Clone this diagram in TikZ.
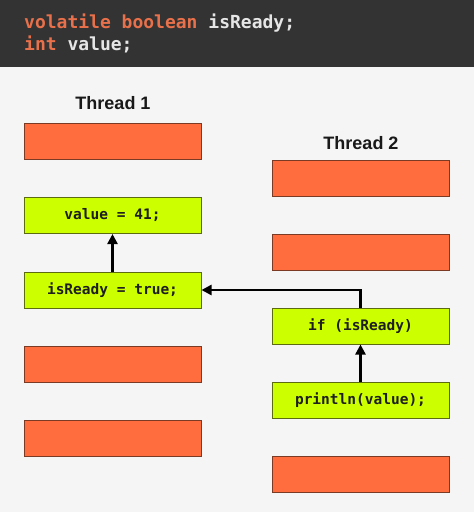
\documentclass[tikz,border=0pt]{standalone}
\usepackage{fontspec}
\setmainfont{Liberation Sans}
\newfontfamily\codefont{DejaVu Sans Mono}
\usetikzlibrary{arrows.meta}
\definecolor{hdr}{HTML}{333333}
\definecolor{bg}{HTML}{F5F5F5}
\definecolor{kw}{HTML}{E8704A}
\definecolor{codetxt}{HTML}{E6E6E6}
\definecolor{orfill}{HTML}{FF6D3F}
\definecolor{ordraw}{HTML}{7A3A24}
\definecolor{grfill}{HTML}{CCFF00}
\definecolor{grdraw}{HTML}{5C6B10}
\definecolor{boxtxt}{HTML}{1E1E1E}
\tikzset{
  cell/.style={minimum width=177pt, minimum height=36pt, inner sep=0pt, line width=1pt},
  obox/.style={cell, fill=orfill, draw=ordraw},
  gbox/.style={cell, fill=grfill, draw=grdraw, font=\codefont\bfseries\fontsize{14.5}{16}\selectfont, text=boxtxt},
  title/.style={font=\bfseries\fontsize{18}{20}\selectfont, text=black!90},
  codeline/.style={anchor=base west, inner sep=0pt, font=\codefont\bfseries\fontsize{18}{20}\selectfont, text=codetxt},
  conn/.style={line width=2.3pt, -{Triangle[length=10pt,width=10pt]}}
}
\begin{document}
\begin{tikzpicture}[x=1pt,y=-1pt]
\fill[bg] (0,0) rectangle (474,512);
\useasboundingbox (0,0) rectangle (474,512);
\fill[hdr] (0,0) rectangle (474,67);
\node[codeline] (c1) at (24,28) {\textcolor{kw}{volatile boolean} isReady;};
\node[codeline] (c2) at (24,50) {\textcolor{kw}{int} value;};
\node[title] (t1) at (113,103) {Thread 1};
\node[title] (t2) at (361,143) {Thread 2};
\node[obox] (l1) at (112.5,141.5) {};
\node[gbox] (l2) at (112.5,215.5) {value = 41;};
\node[gbox] (l3) at (112.5,290) {isReady = true;};
\node[obox] (l4) at (112.5,364) {};
\node[obox] (l5) at (112.5,438) {};
\node[obox] (r1) at (360.5,178) {};
\node[obox] (r2) at (360.5,252) {};
\node[gbox] (r3) at (360.5,326) {if (isReady)};
\node[gbox] (r4) at (360.5,400) {println(value);};
\node[obox] (r5) at (360.5,474) {};
\draw[conn] (l3.north) -- (l2.south);
\draw[conn] (r3.north) |- (l3.east);
\draw[conn] (r4.north) -- (r3.south);
\end{tikzpicture}
\end{document}
